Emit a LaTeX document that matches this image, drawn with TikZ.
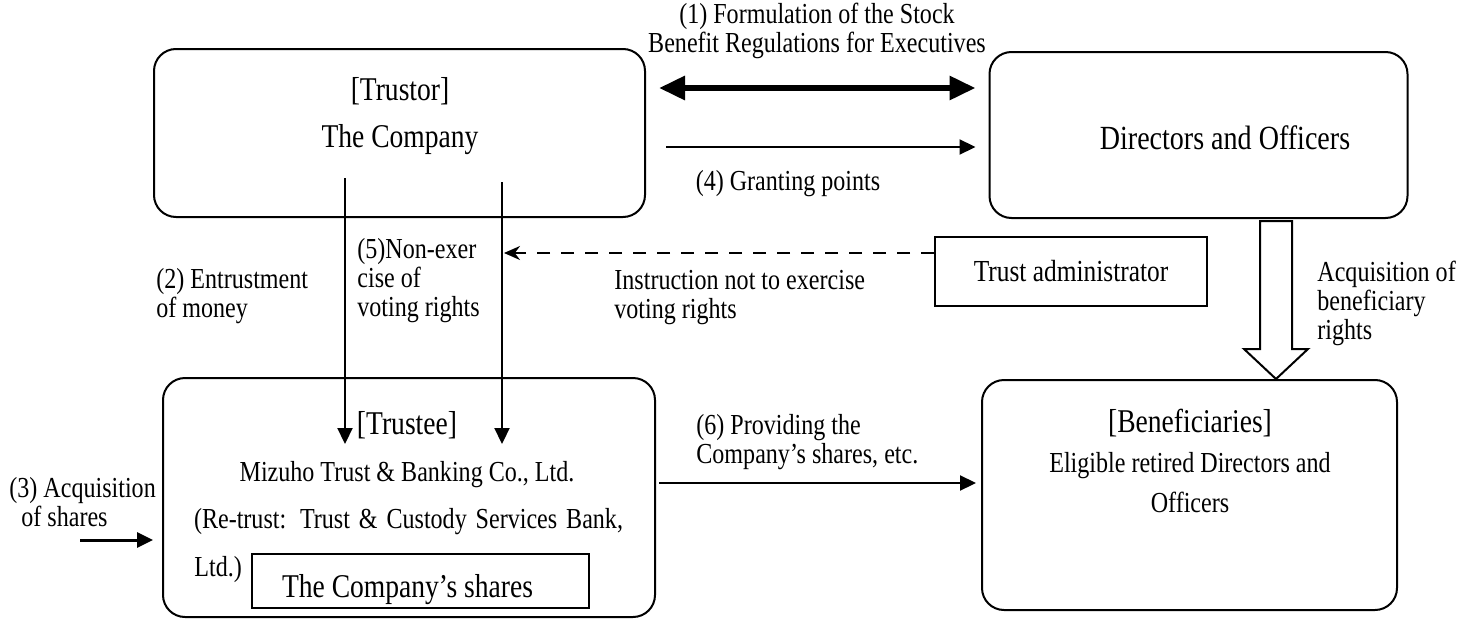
\documentclass[tikz,border=0pt]{standalone}
\usepackage{fontspec}
\setmainfont{Liberation Serif}[FakeStretch=0.83]
\usetikzlibrary{arrows.meta,calc}

\newcommand{\headfont}{\fontsize{16.6}{19}\selectfont}
\newcommand{\labelfont}{\fontsize{14.5}{14.5}\selectfont}

\begin{document}
\begin{tikzpicture}[x=0.5pt, y=-0.5pt,
    party/.style={draw, line width=1pt, rounded corners=11pt, inner sep=0pt},
    plainbox/.style={draw, line width=1pt, inner sep=0pt},
    lbl/.style={font=\labelfont, inner sep=0pt, align=left},
    flow/.style={line width=1.1pt, -{Triangle[length=8pt, width=7.5pt]}}]

    \useasboundingbox (0,0) rectangle (1462,621);

    % the four parties
    \node[party, minimum width=245.5pt, minimum height=84pt] (trustor) at (399.5,133) {};
    \node[party, minimum width=209pt, minimum height=83pt] (directors) at (1198.5,135) {};
    \node[party, minimum width=246pt, minimum height=119.5pt] (trustee) at (409,497.5) {};
    \node[party, minimum width=207.5pt, minimum height=115pt] (benef) at (1189.5,495) {};
    \node[plainbox, minimum width=136pt, minimum height=34.5pt,
          font=\fontsize{15.3}{17}\selectfont] (admin) at (1071,271.5) {Trust administrator};
    \node[plainbox, minimum width=168.5pt, minimum height=27pt] (shares) at (420.5,581) {};

    % texts inside the boxes
    \node[font=\headfont, align=center] (trustortxt) at (400,116.5) {[Trustor]\\[4.5pt]The Company};
    \node[font=\fontsize{16.9}{19}\selectfont] (dirtxt) at (1225,138) {Directors and Officers};
    \node[font=\headfont] (trusteetitle) at (407,425) {[Trustee]};
    \node[font=\labelfont] (mizuho) at (407,475) {Mizuho Trust \& Banking Co., Ltd.};
    \node[font=\labelfont] (retrust) at (408.5,522)
        {\makebox[214.5pt][s]{(Re-trust: Trust \& Custody Services Bank,}};
    \node[lbl, anchor=west] (ltd) at (194,570) {Ltd.)};
    \node[font=\headfont, anchor=west] (sharestxt) at (275,590) {The Company’s shares};
    \node[font=\headfont] (bentitle) at (1190,423) {[Beneficiaries]};
    \node[font=\labelfont, align=center] (bentxt) at (1190,483) {Eligible retired Directors and\\[5.5pt]Officers};

    % labels
    \node[lbl, align=center] (formul) at (817,31) {(1) Formulation of the Stock\\Benefit Regulations for Executives};
    \node[lbl] (grant) at (788,184) {(4) Granting points};
    \node[lbl, anchor=west] (entrust) at (156,296.5) {(2) Entrustment\\of money};
    \node[lbl, anchor=west] (nonexer) at (357,280.5) {(5)Non-exer\\cise of\\voting rights};
    \node[lbl, anchor=west] (instr) at (614,298) {Instruction not to exercise\\voting rights};
    \node[lbl, anchor=west] (acqben) at (1317,303) {Acquisition of\\beneficiary\\rights};
    \node[lbl, anchor=west] (acqsh) at (9,502.5) {(3) Acquisition\\\hspace*{6pt}of shares};
    \node[lbl, anchor=west] (provide) at (696,442.5) {(6) Providing the\\Company’s shares, etc.};

    \coordinate (rowA) at (0,88);
    \coordinate (rowB) at (0,147);
    \coordinate (rowD) at (0,253);
    \coordinate (rowF) at (0,483);
    \coordinate (money-top) at (345,178);
    \coordinate (money-end) at (345,444);
    \coordinate (vote-top) at (502,182);
    \coordinate (vote-end) at (502,444);
    \coordinate (instr-end) at (504,253);
    \coordinate (buy) at (80,540);

    \draw[line width=3pt, {Triangle[length=13pt,width=11.5pt]}-{Triangle[length=13pt,width=11.5pt]},
          shorten <=6.5pt, shorten >=6.5pt] (trustor.east |- rowA) -- (directors.west |- rowA);
    \draw[flow, shorten <=10pt, shorten >=6.5pt] (trustor.east |- rowB) -- (directors.west |- rowB);
    \draw[flow] (money-top) -- (money-end);
    \draw[flow] (vote-top) -- (vote-end);
    \draw[line width=1pt, dash pattern=on 6.5pt off 5.5pt, -{Stealth[length=8pt,width=7pt]}]
        (admin.west |- rowD) -- (instr-end);
    \draw[flow, line width=1.5pt, shorten >=4.5pt] (buy) -- (trustee.west |- buy);
    \draw[flow, shorten <=1.5pt, shorten >=2.5pt] (trustee.east |- rowF) -- (benef.west |- rowF);

    % hollow arrow
    \coordinate (hol-top) at (directors.south -| 1276,0);
    \coordinate (hol-tip) at (benef.north -| 1276,0);
    \draw[line width=1pt, fill=white] ($(hol-top)+(-16,2)$) -- ($(hol-tip)+(-16,-30)$)
        -- ($(hol-tip)+(-32,-30)$) -- (hol-tip) -- ($(hol-tip)+(32,-30)$)
        -- ($(hol-tip)+(16,-30)$) -- ($(hol-top)+(16,2)$) -- cycle;
\end{tikzpicture}
\end{document}
